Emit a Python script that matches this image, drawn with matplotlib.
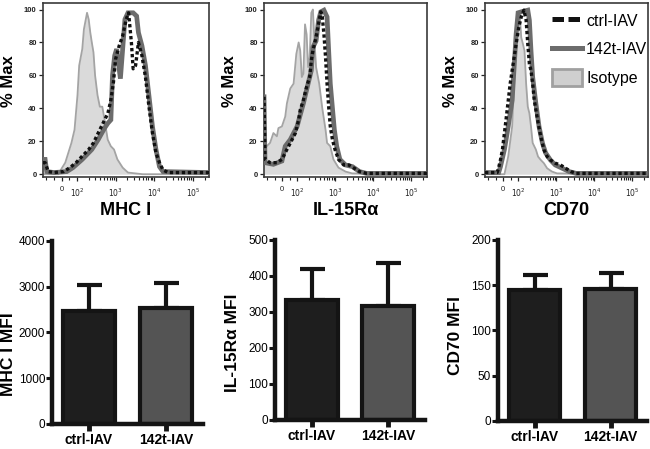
import numpy as np
import matplotlib
matplotlib.use('Agg')
import matplotlib.pyplot as plt
from matplotlib.lines import Line2D
from matplotlib.patches import Patch
from matplotlib.ticker import FixedLocator, FixedFormatter, NullFormatter

plt.rcParams['font.family'] = ['Liberation Sans', 'DejaVu Sans']

# ---------------- histogram data (fluorescence intensity, % of max) ----------------
mhc_iso_x = [-120, -20, 4, 24, 44, 64, 84, 103, 114, 137, 151, 182, 201, 221, 242, 267, 294, 340, 390, 452,
             518, 624, 752, 909, 1112, 1522, 2084, 5000, 262144]
mhc_iso_y = [0, 0, 4, 7, 13, 19, 27, 48, 66, 76, 88, 98, 94, 86, 80, 74, 60, 48, 41, 41,
             33, 21, 17, 15, 9, 4, 1, 0, 0]
mhc_ctrl_x = [-120, -106, -86, -48, 14, 54, 94, 137, 201, 267, 354, 473, 631, 753, 880, 1000, 1238, 1522, 1875, 2171,
              2560, 2846, 3290, 3898, 4800, 5920, 7300, 8980, 11080, 13660, 16840, 23080, 262144]
mhc_ctrl_y = [7, 7, 1.6, 1, 1.6, 4, 7, 11, 15, 19, 25, 31, 37, 45, 56, 70, 78, 84, 94, 98,
              80, 64, 66, 80, 72, 59, 41, 25, 13, 7, 2.6, 1, 1]
mhc_142_x = [-120, -106, -96, -48, 34, 74, 137, 242, 354, 518, 631, 753, 830, 945, 1065, 1330, 1522, 1740, 2084, 2846,
             3500, 3898, 4800, 5920, 7300, 8980, 11080, 13660, 16840, 262144]
mhc_142_y = [9, 9, 1.6, 1, 1.6, 4, 9, 15, 21, 28, 31, 33, 60, 72, 76, 58, 76, 94, 98, 98,
             96, 86, 78, 66, 47.5, 29, 15, 4.6, 1.6, 1]

il_iso_x = [-120, -102, -80, -58, -35, -25, -2, 20, 31, 53, 75, 93, 108, 119, 131, 144, 159, 175, 192, 211,
            233, 256, 282, 311, 376, 454, 553, 606, 737, 891, 1212, 1858, 2783, 262144]
il_iso_y = [17, 17, 19, 25, 23, 28, 29, 35, 43, 52, 55, 73, 80, 75, 59, 61, 91, 85, 65, 71,
            98, 100, 81, 65, 55, 40, 27, 19, 17, 9, 4, 1.6, 0.5, 0]
il_ctrl_x = [-120, -113, -80, -35, -2, 31, 65, 87, 108, 119, 144, 175, 211, 233, 256, 282, 322, 376, 414, 454,
             501, 553, 606, 668, 737, 841, 981, 1212, 1668, 2297, 3162, 4350, 6660, 262144]
il_ctrl_y = [47, 9, 7, 7, 9, 15, 21, 25, 33, 39, 45, 53, 59, 69, 75, 79, 85, 93.5, 98.6, 95.5,
             85, 71, 55, 41, 29, 21, 15, 9, 5.6, 5.6, 3.6, 1.6, 0.5, 0.5]
il_142_x = [-120, -113, -58, -2, 20, 53, 98, 144, 192, 233, 256, 311, 362, 414, 501, 606, 668, 737, 841, 944,
            1087, 1320, 1858, 2830, 4350, 6660, 262144]
il_142_y = [47, 7, 6, 8, 17, 21, 29, 43, 55, 63, 77, 81, 93.5, 98.6, 99.6, 95.5, 75, 55, 40, 27,
            17, 9, 5.6, 4.6, 1.6, 0.5, 0.5]

cd_iso_x = [-120, 0, 8, 33, 59, 72, 85, 98, 108, 119, 132, 145, 160, 177, 195, 215, 238, 262, 289, 330,
            388, 470, 573, 769, 1045, 262144]
cd_iso_y = [0, 0, 0, 10.7, 29, 55, 85, 98.6, 97.6, 83, 79, 75, 55, 41, 37, 29, 19, 17, 15, 10.7,
            8.7, 6.7, 3.6, 1.6, 0.5, 0]
cd_ctrl_x = [-120, -40, -31, -18, -5, 8, 21, 46, 59, 72, 85, 102, 119, 140, 160, 177, 195, 215, 238, 262,
             321, 388, 470, 573, 694, 938, 1289, 1770, 2430, 3340, 262144]
cd_ctrl_y = [1, 1, 3.6, 8.7, 15, 25, 35, 55, 63, 71, 79, 89, 95.5, 99.6, 93.5, 79, 67, 63, 55, 45,
             33, 23, 15, 10.7, 8.7, 6.7, 5.6, 3.6, 1.6, 0.5, 0.5]
cd_142_x = [-120, -30, -18, 8, 33, 59, 72, 85, 98, 119, 177, 195, 215, 238, 289, 350, 430, 521, 694, 938,
            1435, 2180, 3340, 262144]
cd_142_y = [1, 1, 4.6, 15, 29, 45, 65, 85, 98, 98.6, 99.6, 93.5, 75, 59, 43, 29, 19, 13, 8.7, 5.6,
            3.6, 1.6, 0.5, 0.5]

hist_labels = ['MHC I', 'IL-15R\u03b1', 'CD70']
x_tick_vals = [0, 100, 1000, 10000, 100000]
x_tick_text = ['0', '$10^2$', '$10^3$', '$10^4$', '$10^5$']
y_tick_vals = [0, 20, 40, 60, 80, 100]
legend_labels = ['ctrl-IAV', '142t-IAV', 'Isotype']

# ---------------- bar data (MFI, mean and SD) ----------------
groups = ['ctrl-IAV', '142t-IAV']
mhc_mfi = [2470, 2530]
mhc_err = [570, 550]
il_mfi = [333, 317]
il_err = [86, 118]
cd_mfi = [145, 145.5]
cd_err = [16.5, 18.5]
bar_ylabels = ['MHC I MFI', 'IL-15R\u03b1 MFI', 'CD70 MFI']
bar_ymax = [4000, 500, 200]
bar_ystep = [1000, 100, 50]

# ---------------- styles ----------------
ISO_FILL = '#dadada'
ISO_LINE = '#a4a4a4'
C142 = '#6c6c6c'
CTRL = '#111111'

fig = plt.figure(figsize=(6.5, 4.49), dpi=100)

top_rects = [(0.0662, 0.6065, 0.2554, 0.387),
             (0.4062, 0.6065, 0.2508, 0.387),
             (0.7462, 0.6065, 0.2508, 0.387)]
hist_data = [(mhc_iso_x, mhc_iso_y, mhc_142_x, mhc_142_y, mhc_ctrl_x, mhc_ctrl_y),
             (il_iso_x, il_iso_y, il_142_x, il_142_y, il_ctrl_x, il_ctrl_y),
             (cd_iso_x, cd_iso_y, cd_142_x, cd_142_y, cd_ctrl_x, cd_ctrl_y)]

minor_ticks = [-100, -50, 50] + [m * 10 ** e for e in range(2, 6) for m in range(2, 10) if m * 10 ** e < 262144]

for i, (rect, d, lab) in enumerate(zip(top_rects, hist_data, hist_labels)):
    ax = fig.add_axes(rect)
    ix, iy, gx, gy, cx, cy = d
    ax.set_xscale('symlog', linthresh=100, linscale=0.36, base=10)
    ax.fill_between(ix, iy, 0, color=ISO_FILL, lw=0, zorder=1)
    ax.plot(ix, iy, color=ISO_LINE, lw=1.3, zorder=2)
    ax.plot(gx, gy, color=C142, lw=3.4, zorder=3, solid_joinstyle='miter')
    ax.plot(cx, cy, color=CTRL, lw=2.4, ls=(0, (1.0, 0.8)), zorder=4)
    ax.set_xlim(-120, 262144)
    ax.set_ylim(-1.5, 104)
    ax.xaxis.set_major_locator(FixedLocator(x_tick_vals))
    ax.xaxis.set_major_formatter(FixedFormatter(x_tick_text))
    ax.xaxis.set_minor_locator(FixedLocator(minor_ticks))
    ax.xaxis.set_minor_formatter(NullFormatter())
    ax.set_yticks(y_tick_vals)
    ax.tick_params(axis='both', which='major', labelsize=5.5, length=3, width=0.9, pad=1.5, colors='#222222')
    ax.tick_params(axis='x', which='major', pad=4)
    ax.tick_params(axis='x', which='minor', length=2, width=0.8, colors='#222222')
    for t in ax.get_yticklabels():
        t.set_fontweight('bold')
    for s in ax.spines.values():
        s.set_color('#3a3a3a')
        s.set_linewidth(1.2)
    ax.set_xlabel(lab, fontsize=13, fontweight='bold')
    ax.xaxis.set_label_coords(0.5, -0.145)
    ax.set_ylabel('% Max', fontsize=12, fontweight='bold')
    ax.yaxis.set_label_coords(-0.165, 0.55)
    if i == 2:
        handles = [Line2D([], [], color=CTRL, lw=3.6, ls=(0, (2.3, 0.9))),
                   Line2D([], [], color=C142, lw=3.6),
                   Patch(facecolor='#cfcfcf', edgecolor='#a0a0a0', linewidth=2)]
        ax.legend(handles, legend_labels, loc='upper left', bbox_to_anchor=(0.41, 0.945),
                  frameon=False, fontsize=11.5, handlelength=1.9, handleheight=1.2,
                  labelspacing=0.74, handletextpad=0.25, borderaxespad=0, borderpad=0)

bot_rects = [(0.0800, 0.0557, 0.2323, 0.4076),
             (0.4231, 0.0646, 0.2308, 0.4009),
             (0.7662, 0.0624, 0.2292, 0.4031)]
bar_vals = [(mhc_mfi, mhc_err), (il_mfi, il_err), (cd_mfi, cd_err)]
label_pos = [(-0.236, 0.38), (-0.232, 0.43), (-0.233, 0.47)]
bar_fill = ['#1e1e1e', '#545454']

for rect, (vals, errs), ylab, ymax, ystep, lp in zip(bot_rects, bar_vals, bar_ylabels, bar_ymax, bar_ystep, label_pos):
    ax = fig.add_axes(rect)
    xpos = np.arange(len(groups))
    ax.errorbar(xpos, vals, yerr=[np.zeros(len(vals)), errs], fmt='none', ecolor='#141414',
                elinewidth=3, capsize=9, capthick=3, zorder=1)
    ax.bar(xpos, vals, width=0.68, color=bar_fill, edgecolor='#141414', linewidth=3, zorder=2)
    ax.set_xlim(-0.48, 1.48)
    ax.set_ylim(0, ymax)
    ax.set_xticks(xpos)
    ax.set_xticklabels(groups, fontsize=10, fontweight='bold')
    ax.set_yticks(np.arange(0, ymax + 1, ystep))
    ax.tick_params(axis='y', labelsize=8.5, length=4, width=2.2, pad=1, color='#141414')
    ax.tick_params(axis='x', length=5, width=3.5, pad=1.5, color='#141414')
    for t in ax.get_yticklabels():
        t.set_family(['Liberation Sans Narrow', 'Liberation Sans', 'DejaVu Sans'])
    ax.spines['top'].set_visible(False)
    ax.spines['right'].set_visible(False)
    ax.spines['left'].set_linewidth(3.2)
    ax.spines['bottom'].set_linewidth(3.2)
    ax.spines['left'].set_color('#141414')
    ax.spines['bottom'].set_color('#141414')
    ax.set_ylabel(ylab, fontsize=12.5, fontweight='bold')
    ax.yaxis.set_label_coords(lp[0], lp[1])

fig.savefig('out.png', dpi=100)
